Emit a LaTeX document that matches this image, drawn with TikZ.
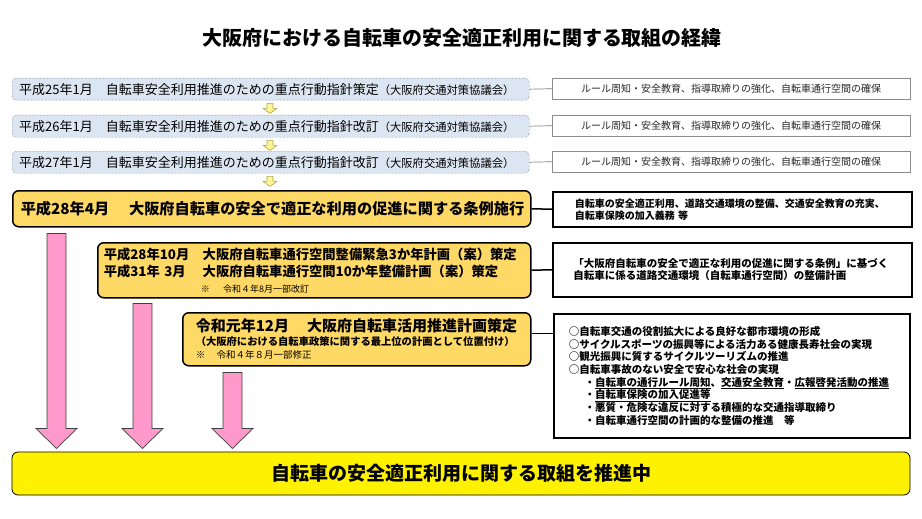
\documentclass[tikz,border=0pt]{standalone}
\usepackage{fontspec}
\setmainfont{Noto Sans CJK JP}
\usetikzlibrary{positioning,calc}
\definecolor{boxblue}{RGB}{220,230,242}
\definecolor{boxgold}{RGB}{255,217,102}
\definecolor{arrowpink}{RGB}{255,153,204}
\definecolor{arrowyellow}{RGB}{255,245,150}
\definecolor{arrowolive}{RGB}{175,165,70}

\begin{document}
\begin{tikzpicture}[x=1pt,y=-1pt]
\tikzstyle{bluebox}=[draw=black!70,densely dotted,rounded corners=4pt,fill=boxblue,anchor=north west,minimum height=22pt,text width=503pt,inner xsep=7pt,inner ysep=0pt,align=left,font=\fontsize{13}{14}\selectfont]
\tikzstyle{notebox}=[draw=black!45,fill=white,anchor=north west,minimum width=358pt,minimum height=21pt,inner sep=0pt,text=black!85,font=\fontsize{10}{12}\selectfont]
\tikzstyle{goldbox}=[draw=black,line width=1.5pt,rounded corners=6pt,fill=boxgold,anchor=north west,align=left,inner ysep=0pt,font=\bfseries]
\tikzstyle{sidebox}=[draw=black,line width=1.5pt,fill=white,anchor=north west,align=left,inner ysep=0pt,font=\bfseries\fontsize{10}{12}\selectfont]
\tikzstyle{smallarrow}=[draw=arrowolive,fill=arrowyellow,line width=0.6pt,line join=round]
\tikzstyle{pinkarrow}=[draw=black!75,fill=arrowpink,line width=0.7pt]

\useasboundingbox (0,0) rectangle (922,519);

%title
\node[font=\bfseries\fontsize{20}{22}\selectfont] (title) at (462,38) {大阪府における自転車の安全適正利用に関する取組の経緯};

%blue boxes on the left
\node[bluebox] (b1) at (12,78) {平成25年1月\hspace{1em}自転車安全利用推進のための重点行動指針策定{\fontsize{11.3}{12}\selectfont （大阪府交通対策協議会）}};
\node[bluebox] (b2) at (12,115) {平成26年1月\hspace{1em}自転車安全利用推進のための重点行動指針改訂{\fontsize{11.3}{12}\selectfont （大阪府交通対策協議会）}};
\node[bluebox] (b3) at (12,151) {平成27年1月\hspace{1em}自転車安全利用推進のための重点行動指針改訂{\fontsize{11.3}{12}\selectfont （大阪府交通対策協議会）}};

%thin boxes on the right
\node[notebox] (n1) at (552,78) {ルール周知・安全教育、指導取締りの強化、自転車通行空間の確保};
\node[notebox] (n2) at (552,115) {ルール周知・安全教育、指導取締りの強化、自転車通行空間の確保};
\node[notebox] (n3) at (552,151) {ルール周知・安全教育、指導取締りの強化、自転車通行空間の確保};
\draw[black!50,line width=0.7pt] (b1.east) -- (n1.west);
\draw[black!50,line width=0.7pt] (b2.east) -- (n2.west);
\draw[black!50,line width=0.7pt] (b3.east) -- (n3.west);

%small yellow arrows
\draw[smallarrow] ($(b1.south west)+(255,3)$) -- ++(6,0) -- ++(0,5) -- ++(4,0) -- ++(-7,5) -- ++(-7,-5) -- ++(4,0) -- cycle;
\draw[smallarrow] ($(b2.south west)+(255,3)$) -- ++(6,0) -- ++(0,5) -- ++(4,0) -- ++(-7,5) -- ++(-7,-5) -- ++(4,0) -- cycle;
\draw[smallarrow] ($(b3.south west)+(255,3)$) -- ++(6,0) -- ++(0,5) -- ++(4,0) -- ++(-7,5) -- ++(-7,-5) -- ++(4,0) -- cycle;

%gold boxes
\node[goldbox,minimum height=36pt,text width=502pt,inner xsep=8pt,font=\bfseries\fontsize{15.2}{18}\selectfont] (o1) at (12,190) {平成28年4月\hspace{1.3em}大阪府自転車の安全で適正な利用の促進に関する条例施行};
\node[goldbox,minimum height=55pt,text width=421pt,inner xsep=6pt,font=\bfseries\fontsize{13.3}{17}\selectfont] (o2) at (97,242) {\makebox[99pt][l]{平成28年10月}大阪府自転車通行空間整備緊急3か年計画（案）策定\\
\makebox[99pt][l]{平成31年 3月}大阪府自転車通行空間10か年整備計画（案）策定\\[-1pt]
\makebox[97pt][l]{}{\mdseries\fontsize{9}{11}\selectfont ※\hspace{1.5em}令和４年8月一部改訂}};
\node[goldbox,minimum height=53pt,text width=322pt,inner xsep=13pt,font=\bfseries\fontsize{10.3}{14}\selectfont] (o3) at (182,312) {{\fontsize{15}{15}\selectfont 令和元年12月\hspace{1.2em}大阪府自転車活用推進計画策定}\\
（大阪府における自転車政策に関する最上位の計画として位置付け）\\[-1pt]
{\mdseries\fontsize{9.5}{11}\selectfont ※\hspace{1.2em}令和４年８月一部修正}};

%boxes on the right with thick frames
\node[sidebox,minimum width=359pt,minimum height=35pt,text width=315pt,inner xsep=22pt] (s1) at (552,191) {自転車の安全適正利用、道路交通環境の整備、交通安全教育の充実、\\自転車保険の加入義務 等};
\node[sidebox,minimum width=359pt,minimum height=54pt,text width=318pt,inner xsep=20.5pt,font=\bfseries\fontsize{10.5}{12.5}\selectfont] (s2) at (552,242) {「大阪府自転車の安全で適正な利用の促進に関する条例」に基づく\\自転車に係る道路交通環境（自転車通行空間）の整備計画\\[4pt]};
\node[sidebox,minimum width=356pt,minimum height=124pt,text width=326pt,inner xsep=15pt,font=\bfseries\fontsize{10.5}{12.7}\selectfont] (s3) at (553,313) {○自転車交通の役割拡大による良好な都市環境の形成\\
○サイクルスポーツの振興等による活力ある健康長寿社会の実現\\
○観光振興に質するサイクルツーリズムの推進\\
○自転車事故のない安全で安心な社会の実現\\
\hspace{1.5em}・\underline{自転車の通行ルール周知}、\underline{交通安全教育}・\underline{広報啓発活動の推進}\\
\hspace{1.5em}・\underline{自転車保険の加入促進等}\\
\hspace{1.5em}・悪質・危険な違反に対する積極的な交通指導取締り\\
\hspace{1.5em}・自転車通行空間の計画的な整備の推進\hspace{1em}等\\[3pt]};
\draw[line width=1.5pt] (o1.east) -- (s1.west);
\draw[line width=1.5pt] (o2.east) -- (s2.west);
\draw[line width=1.5pt] ([yshift=6pt]o3.east) -- ([yshift=6pt]o3.east -| s3.west);

%goal box at the bottom
\node[draw=black,line width=0.8pt,rounded corners=6pt,fill=yellow,minimum width=898pt,minimum height=43pt,font=\bfseries\fontsize{19}{20}\selectfont] (goal) at (461,473.5) {自転車の安全適正利用に関する取組を推進中};

%pink arrows down to the goal
\draw[pinkarrow] ($(o1.south west)+(35,6)$) -- ++(19,0) -- ++(0,195) -- ++(11,0) -- ++(-20.5,20) -- ++(-20.5,-20) -- ++(11,0) -- cycle;
\draw[pinkarrow] ($(o2.south west)+(36,5)$) -- ++(19,0) -- ++(0,125) -- ++(11,0) -- ++(-20.5,20) -- ++(-20.5,-20) -- ++(11,0) -- cycle;
\draw[pinkarrow] ($(o3.south west)+(41,6)$) -- ++(19,0) -- ++(0,56) -- ++(11,0) -- ++(-20.5,20) -- ++(-20.5,-20) -- ++(11,0) -- cycle;
\end{tikzpicture}
\end{document}
